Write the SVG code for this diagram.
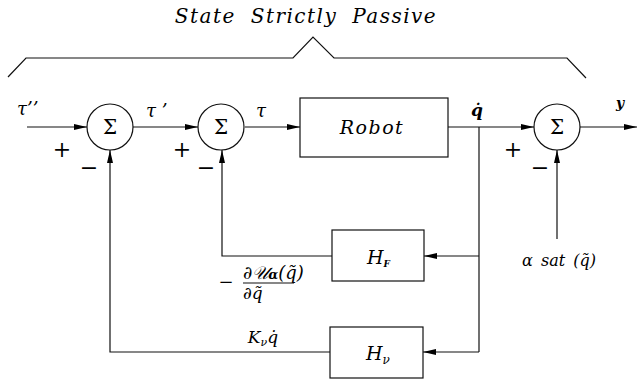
<svg xmlns="http://www.w3.org/2000/svg" width="637" height="383" viewBox="0 0 637 383">
<style>
.ln{fill:none;stroke:#111;stroke-width:1.2}
.bx{fill:#fff;stroke:#111;stroke-width:1.2}
.t{font-family:"DejaVu Serif","Liberation Serif",serif;font-style:italic;fill:#000}
.s{font-family:"DejaVu Serif","Liberation Serif",serif;fill:#000}
.m{font-family:"DejaVu Serif","Liberation Serif",serif;font-style:italic;fill:#000}
</style>
<defs>
<marker id="ah" markerWidth="14" markerHeight="8" refX="13" refY="4" orient="auto" markerUnits="userSpaceOnUse">
<path d="M0,1 L13,4 L0,7 Z" fill="#000"/>
</marker>
</defs>
<text class="t" x="306" y="23" font-size="20" text-anchor="middle" letter-spacing="1.5" word-spacing="7">State Strictly Passive</text>
<polyline class="ln" points="8,77 26,58 293,58 313,37 334,58 567,58 586,78"/>
<g id="connectors">
<line class="ln" x1="27" y1="127" x2="87" y2="127" marker-end="url(#ah)"/>
<line class="ln" x1="133" y1="127" x2="198" y2="127" marker-end="url(#ah)"/>
<line class="ln" x1="245" y1="127" x2="300" y2="127" marker-end="url(#ah)"/>
<line class="ln" x1="448" y1="127" x2="534" y2="127" marker-end="url(#ah)"/>
<line class="ln" x1="580" y1="127" x2="637" y2="127" marker-end="url(#ah)"/>
<line class="ln" x1="479" y1="127" x2="479" y2="352"/>
<line class="ln" x1="479" y1="256" x2="424" y2="256" marker-end="url(#ah)"/>
<line class="ln" x1="479" y1="352" x2="423" y2="352" marker-end="url(#ah)"/>
<polyline class="ln" points="332,256 222,256 222,150" marker-end="url(#ah)"/>
<polyline class="ln" points="330,352 110,352 110,150" marker-end="url(#ah)"/>
<line class="ln" x1="557" y1="239" x2="557" y2="150" marker-end="url(#ah)"/>
</g>
<g id="sum1"><circle class="bx" cx="110" cy="127" r="23"/><text class="s" x="110" y="134" font-size="20" text-anchor="middle">Σ</text></g>
<g id="sum2"><circle class="bx" cx="221" cy="127" r="23"/><text class="s" x="221" y="134" font-size="20" text-anchor="middle">Σ</text></g>
<g id="sum3"><circle class="bx" cx="557" cy="127" r="23"/><text class="s" x="557" y="134" font-size="20" text-anchor="middle">Σ</text></g>
<g id="robot"><rect class="bx" x="300" y="98" width="148" height="59"/><text class="t" x="372" y="134" font-size="19" text-anchor="middle" letter-spacing="1.5">Robot</text></g>
<g id="HF"><rect class="bx" x="332" y="230" width="92" height="51"/><text class="t" x="367" y="264" font-size="19">H<tspan font-size="9" font-weight="bold" dy="3">F</tspan></text></g>
<g id="Hv"><rect class="bx" x="330" y="327" width="93" height="51"/><text class="t" x="366" y="360" font-size="19">H<tspan font-size="12" dy="4">ν</tspan></text></g>
<g id="labels">
<text class="t" x="17" y="115" font-size="18">τ’’</text>
<text class="s" x="62" y="157" font-size="22" text-anchor="middle">+</text>
<text class="s" x="89" y="175" font-size="22" text-anchor="middle">−</text>
<text class="t" x="146" y="117" font-size="18">τ ’</text>
<text class="s" x="182" y="157" font-size="22" text-anchor="middle">+</text>
<text class="s" x="206" y="175" font-size="22" text-anchor="middle">−</text>
<text class="t" x="256" y="117" font-size="18">τ</text>
<text class="m" x="477" y="116" font-size="17" font-weight="bold" text-anchor="middle">q̇</text>
<text class="s" x="513" y="157" font-size="22" text-anchor="middle">+</text>
<text class="s" x="540" y="175" font-size="22" text-anchor="middle">−</text>
<text class="m" x="620" y="108" font-size="14" font-weight="bold" text-anchor="middle">y</text>
<text class="m" x="559" y="266" font-size="16" text-anchor="middle" word-spacing="3">α sat (q̃)</text>
<text class="s" x="226" y="288" font-size="18" text-anchor="middle">−</text>
<text class="m" x="243" y="279" font-size="18">∂𝒰<tspan font-size="13" font-weight="bold">α</tspan>(q̃)</text>
<line class="ln" x1="243" y1="283" x2="294" y2="283" stroke-width="1"/>
<text class="m" x="243" y="299" font-size="17">∂q̃</text>
<text class="m" x="263" y="343" font-size="17" text-anchor="middle">K<tspan font-size="11" dy="3">ν</tspan><tspan dy="-3">q̇</tspan></text>
</g>
</svg>
